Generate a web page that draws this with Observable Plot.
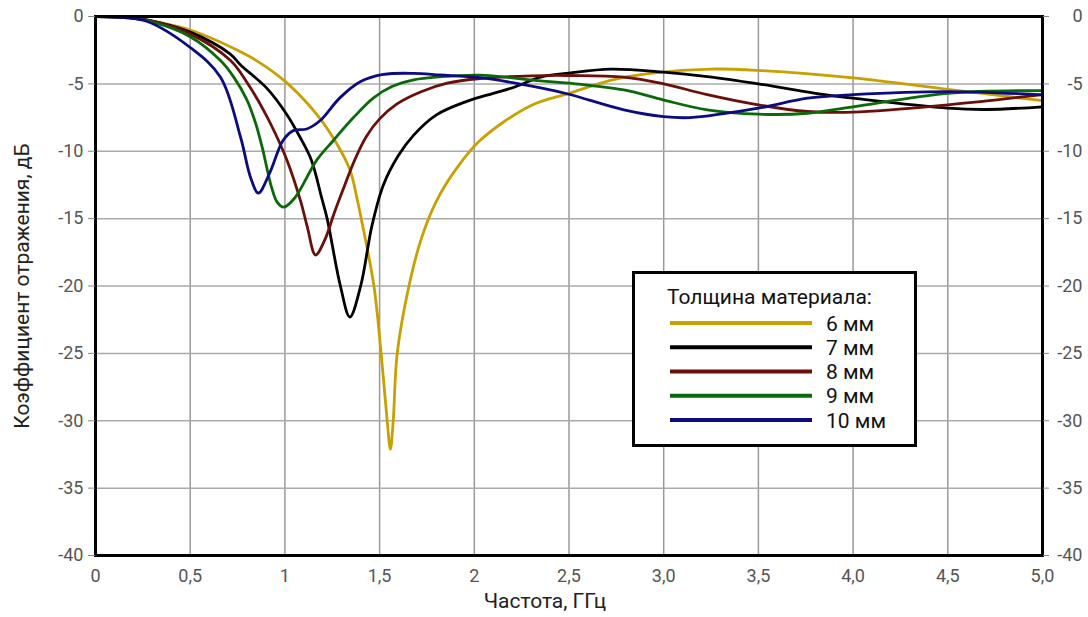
<!DOCTYPE html>
<html><head><meta charset="utf-8">
<script src="https://cdn.jsdelivr.net/npm/d3@7"></script>
<script src="https://cdn.jsdelivr.net/npm/@observablehq/plot@0.6"></script>
<style>
html,body{margin:0;padding:0;background:#fff;}
#wrap{position:relative;width:1088px;height:617px;font-family:Roboto, sans-serif;}
#legend{position:absolute;left:632px;top:271px;}
</style></head><body><div id="wrap"></div>
<script>
// ---- data ----
const series = ["6 мм", "7 мм", "8 мм", "9 мм", "10 мм"];
const colors = ["#c8a000", "#000000", "#6a0f0a", "#0a6a0a", "#0c0c80"];
const legendTitle = "Толщина материала:";
const xTitle = "Частота, ГГц";
const yTitle = "Коэффициент отражения, дБ";

const xTicks = [0, 0.5, 1, 1.5, 2, 2.5, 3, 3.5, 4, 4.5, 5];
const xTickLabels = ["0", "0,5", "1", "1,5", "2", "2,5", "3,0", "3,5", "4,0", "4,5", "5,0"];
const yTicks = [0, -5, -10, -15, -20, -25, -30, -35, -40];

const f6 = [0, 0.15, 0.3, 0.5, 0.75, 0.85, 1.0, 1.168, 1.274, 1.344, 1.38, 1.403, 1.47, 1.508, 1.54, 1.557, 1.572, 1.593, 1.655, 1.72, 1.80, 1.91, 2.03, 2.3, 2.5, 2.73, 2.94, 3.25, 3.5, 4.0, 4.5, 5.0];
const r6 = [0, -0.05, -0.35, -1.0, -2.5, -3.27, -4.8, -7.26, -9.44, -11.4, -13.45, -15, -20, -25, -30, -32.1, -30, -25, -20, -16.5, -13.7, -11.2, -9.2, -6.6, -5.7, -4.7, -4.2, -3.9, -4.0, -4.55, -5.4, -6.25];

const f7 = [0, 0.15, 0.27, 0.5, 0.71, 0.766, 0.903, 1.009, 1.08, 1.14, 1.194, 1.223, 1.293, 1.343, 1.40, 1.46, 1.52, 1.6, 1.68, 1.8, 1.96, 2.1, 2.21, 2.35, 2.5, 2.72, 3.0, 3.23, 3.5, 3.85, 4.0, 4.5, 4.7, 5.0];
const r7 = [0, -0.05, -0.25, -1.16, -2.77, -3.6, -5.3, -7.25, -8.96, -10.66, -13.45, -15, -20, -22.3, -20, -15.5, -12.5, -10.3, -8.8, -7.3, -6.3, -5.7, -5.25, -4.5, -4.2, -3.9, -4.13, -4.46, -5.0, -5.8, -6.06, -6.8, -6.9, -6.7];

const f8 = [0, 0.15, 0.3, 0.5, 0.713, 0.8, 0.889, 0.95, 1.012, 1.083, 1.118, 1.162, 1.21, 1.26, 1.30, 1.37, 1.43, 1.5, 1.59, 1.716, 1.857, 2.03, 2.3, 2.5, 2.79, 3.0, 3.23, 3.5, 3.76, 4.0, 4.5, 5.0];
const r8 = [0, -0.05, -0.35, -1.29, -3.27, -4.9, -7.0, -8.7, -10.7, -13.7, -15.6, -17.7, -16.6, -14.6, -13.1, -10.6, -8.9, -7.6, -6.5, -5.6, -4.95, -4.6, -4.4, -4.38, -4.5, -5.0, -5.8, -6.56, -7.05, -7.1, -6.56, -5.8];

const f9 = [0, 0.15, 0.3, 0.5, 0.66, 0.73, 0.8, 0.845, 0.88, 0.93, 0.96, 0.994, 1.053, 1.168, 1.256, 1.362, 1.468, 1.565, 1.68, 1.82, 2.03, 2.35, 2.5, 2.79, 3.0, 3.23, 3.5, 3.76, 4.0, 4.5, 5.0];
const r9 = [0, -0.05, -0.4, -1.5, -3.27, -4.5, -6.2, -7.9, -9.7, -12.7, -13.8, -14.15, -13.45, -10.66, -9.2, -7.5, -6.04, -5.2, -4.7, -4.47, -4.35, -4.78, -4.95, -5.45, -6.2, -6.93, -7.25, -7.18, -6.7, -5.7, -5.5];

const f10 = [0, 0.15, 0.27, 0.5, 0.66, 0.766, 0.82, 0.86, 0.92, 0.99, 1.044, 1.115, 1.185, 1.29, 1.4, 1.52, 1.68, 1.82, 2.03, 2.35, 2.5, 2.79, 3.0, 3.14, 3.5, 3.76, 4.0, 4.5, 5.0];
const r10 = [0, -0.08, -0.35, -2.3, -4.5, -8.96, -12.0, -13.1, -11.6, -9.2, -8.47, -8.35, -7.74, -6.04, -4.83, -4.3, -4.22, -4.34, -4.54, -5.3, -5.77, -6.93, -7.43, -7.5, -6.8, -6.06, -5.8, -5.57, -5.82];

// ---- build table ----
const freqs = [f6, f7, f8, f9, f10];
const refl = [r6, r7, r8, r9, r10];
const rows = series.flatMap((s, k) => freqs[k].map((f, i) => ({series: s, f, r: refl[k][i]})));

const xFmt = d => xTickLabels[xTicks.indexOf(d)];
const yFmt = d => String(d);

const chart = Plot.plot({
  width: 1088,
  height: 617,
  marginLeft: 95,
  marginRight: 46,
  marginTop: 16,
  marginBottom: 62,
  style: {fontFamily: "Roboto, sans-serif", fontSize: "18px", color: "#555", background: "#fff"},
  x: {domain: [0, 5]},
  y: {domain: [-40, 0]},
  color: {domain: series, range: colors},
  marks: [
    Plot.gridX(xTicks, {stroke: "#999", strokeOpacity: 1, strokeWidth: 1.5}),
    Plot.gridY(yTicks, {stroke: "#aaa", strokeOpacity: 1, strokeWidth: 1.5}),
    Plot.line(rows, {x: "f", y: "r", z: "series", stroke: "series", curve: "catmull-rom", strokeWidth: 2.8}),
    Plot.frame({stroke: "#000", strokeWidth: 3}),
    Plot.axisY(yTicks, {anchor: "left", tickSize: 7, tickPadding: 5, tickFormat: yFmt, label: null, stroke: "#888"}),
    Plot.axisY(yTicks, {anchor: "right", tickSize: 6, tickPadding: 34, textAnchor: "end", tickFormat: yFmt, label: null, stroke: "#888"}),
    Plot.axisX(xTicks, {anchor: "bottom", tickSize: 0, tickPadding: 14, tickFormat: xFmt, label: null}),
    Plot.text([xTitle], {frameAnchor: "bottom", dx: -24, dy: 52, fontSize: 21, fill: "#222"}),
    Plot.text([yTitle], {frameAnchor: "left", dx: -73, rotate: -90, textAnchor: "middle", fontSize: 21, fill: "#222"})
  ]
});

const wrap = document.getElementById("wrap");
wrap.appendChild(chart);

// ---- legend box (overlay) ----
const lw = 285, lh = 176;
const leg = d3.create("svg").attr("id", "legend").attr("width", lw).attr("height", lh)
  .style("font-family", "Roboto, sans-serif");
leg.append("rect").attr("x", 1.5).attr("y", 1.5).attr("width", lw - 3).attr("height", lh - 3)
  .attr("fill", "#fff").attr("stroke", "#000").attr("stroke-width", 3);
leg.append("text").attr("x", 35).attr("y", 33).attr("font-size", 21).attr("fill", "#111").text(legendTitle);
const rowY = d3.scaleLinear().domain([0, series.length - 1]).range([52, 149]);
series.forEach((s, i) => {
  leg.append("line").attr("x1", 38).attr("x2", 180).attr("y1", rowY(i)).attr("y2", rowY(i))
    .attr("stroke", colors[i]).attr("stroke-width", 4);
  leg.append("text").attr("x", 194).attr("y", rowY(i) + 7.5).attr("font-size", 21).attr("fill", "#111").text(s);
});
wrap.appendChild(leg.node());
</script>
</body></html>
